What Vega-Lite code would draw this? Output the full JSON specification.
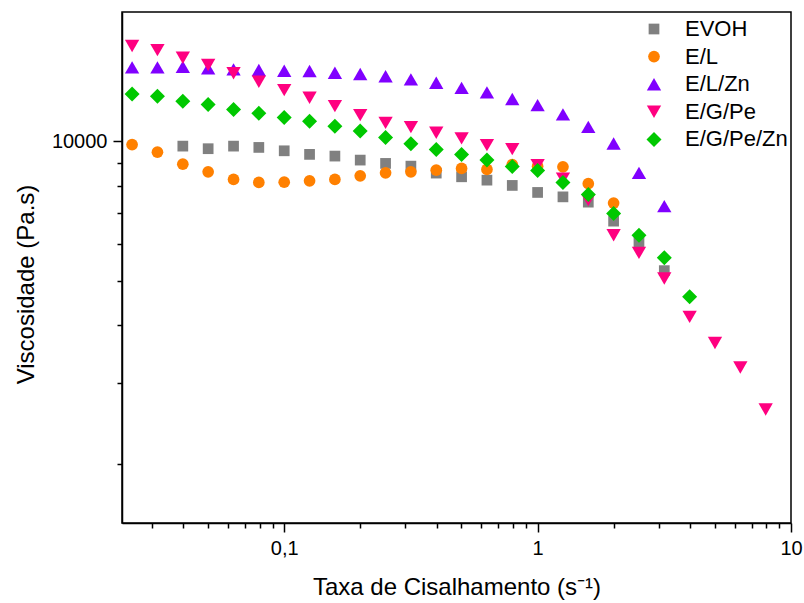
{
  "$schema": "https://vega.github.io/schema/vega-lite/v6.json",
  "width": 669,
  "height": 511,
  "autosize": {"type": "none"},
  "padding": {"left": 122, "top": 12, "right": 13, "bottom": 80},
  "background": "white",
  "config": {
    "view": {"stroke": "black", "strokeWidth": 1.5},
    "font": "Liberation Sans",
    "axis": {
      "grid": false,
      "labelFont": "Liberation Sans",
      "titleFont": "Liberation Sans",
      "labelFontSize": 20,
      "titleFontSize": 24,
      "titleFontWeight": "normal",
      "labelColor": "black",
      "titleColor": "black",
      "domainColor": "black",
      "tickColor": "black",
      "domainWidth": 1.5,
      "tickWidth": 1.5
    }
  },
  "data": {
    "values": [
      {"s": "EVOH", "x": 0.0398, "y": 9768},
      {"s": "EVOH", "x": 0.0501, "y": 9643},
      {"s": "EVOH", "x": 0.0631, "y": 9768},
      {"s": "EVOH", "x": 0.0794, "y": 9705},
      {"s": "EVOH", "x": 0.1, "y": 9543},
      {"s": "EVOH", "x": 0.1259, "y": 9374},
      {"s": "EVOH", "x": 0.1585, "y": 9295},
      {"s": "EVOH", "x": 0.1995, "y": 9111},
      {"s": "EVOH", "x": 0.2512, "y": 8962},
      {"s": "EVOH", "x": 0.3162, "y": 8841},
      {"s": "EVOH", "x": 0.3981, "y": 8540},
      {"s": "EVOH", "x": 0.5012, "y": 8384},
      {"s": "EVOH", "x": 0.631, "y": 8245},
      {"s": "EVOH", "x": 0.7943, "y": 8031},
      {"s": "EVOH", "x": 1, "y": 7755},
      {"s": "EVOH", "x": 1.259, "y": 7586},
      {"s": "EVOH", "x": 1.585, "y": 7389},
      {"s": "EVOH", "x": 1.995, "y": 6722},
      {"s": "EVOH", "x": 2.512, "y": 6068},
      {"s": "EVOH", "x": 3.162, "y": 5253},

      {"s": "E/L", "x": 0.0251, "y": 9842},
      {"s": "E/L", "x": 0.0316, "y": 9480},
      {"s": "E/L", "x": 0.0398, "y": 8930},
      {"s": "E/L", "x": 0.0501, "y": 8593},
      {"s": "E/L", "x": 0.0631, "y": 8274},
      {"s": "E/L", "x": 0.0794, "y": 8150},
      {"s": "E/L", "x": 0.1, "y": 8160},
      {"s": "E/L", "x": 0.1259, "y": 8218},
      {"s": "E/L", "x": 0.1585, "y": 8274},
      {"s": "E/L", "x": 0.1995, "y": 8424},
      {"s": "E/L", "x": 0.2512, "y": 8550},
      {"s": "E/L", "x": 0.3162, "y": 8593},
      {"s": "E/L", "x": 0.3981, "y": 8666},
      {"s": "E/L", "x": 0.5012, "y": 8741},
      {"s": "E/L", "x": 0.631, "y": 8697},
      {"s": "E/L", "x": 0.7943, "y": 8908},
      {"s": "E/L", "x": 1, "y": 8841},
      {"s": "E/L", "x": 1.259, "y": 8811},
      {"s": "E/L", "x": 1.585, "y": 8100},
      {"s": "E/L", "x": 1.995, "y": 7354},

      {"s": "E/L/Zn", "x": 0.0251, "y": 14460},
      {"s": "E/L/Zn", "x": 0.0316, "y": 14460},
      {"s": "E/L/Zn", "x": 0.0398, "y": 14500},
      {"s": "E/L/Zn", "x": 0.0501, "y": 14390},
      {"s": "E/L/Zn", "x": 0.0631, "y": 14320},
      {"s": "E/L/Zn", "x": 0.0794, "y": 14270},
      {"s": "E/L/Zn", "x": 0.1, "y": 14220},
      {"s": "E/L/Zn", "x": 0.1259, "y": 14200},
      {"s": "E/L/Zn", "x": 0.1585, "y": 14080},
      {"s": "E/L/Zn", "x": 0.1995, "y": 13990},
      {"s": "E/L/Zn", "x": 0.2512, "y": 13840},
      {"s": "E/L/Zn", "x": 0.3162, "y": 13620},
      {"s": "E/L/Zn", "x": 0.3981, "y": 13390},
      {"s": "E/L/Zn", "x": 0.5012, "y": 13060},
      {"s": "E/L/Zn", "x": 0.631, "y": 12770},
      {"s": "E/L/Zn", "x": 0.7943, "y": 12350},
      {"s": "E/L/Zn", "x": 1, "y": 11980},
      {"s": "E/L/Zn", "x": 1.259, "y": 11440},
      {"s": "E/L/Zn", "x": 1.585, "y": 10750},
      {"s": "E/L/Zn", "x": 1.995, "y": 9900},
      {"s": "E/L/Zn", "x": 2.512, "y": 8550},
      {"s": "E/L/Zn", "x": 3.162, "y": 7244},

      {"s": "E/G/Pe", "x": 0.0251, "y": 16080},
      {"s": "E/G/Pe", "x": 0.0316, "y": 15760},
      {"s": "E/G/Pe", "x": 0.0398, "y": 15170},
      {"s": "E/G/Pe", "x": 0.0501, "y": 14630},
      {"s": "E/G/Pe", "x": 0.0631, "y": 14040},
      {"s": "E/G/Pe", "x": 0.0794, "y": 13460},
      {"s": "E/G/Pe", "x": 0.1, "y": 12910},
      {"s": "E/G/Pe", "x": 0.1259, "y": 12430},
      {"s": "E/G/Pe", "x": 0.1585, "y": 11920},
      {"s": "E/G/Pe", "x": 0.1995, "y": 11400},
      {"s": "E/G/Pe", "x": 0.2512, "y": 10970},
      {"s": "E/G/Pe", "x": 0.3162, "y": 10740},
      {"s": "E/G/Pe", "x": 0.3981, "y": 10440},
      {"s": "E/G/Pe", "x": 0.5012, "y": 10150},
      {"s": "E/G/Pe", "x": 0.631, "y": 9817},
      {"s": "E/G/Pe", "x": 0.7943, "y": 9623},
      {"s": "E/G/Pe", "x": 1, "y": 8887},
      {"s": "E/G/Pe", "x": 1.259, "y": 8307},
      {"s": "E/G/Pe", "x": 1.585, "y": 7462},
      {"s": "E/G/Pe", "x": 1.995, "y": 6267},
      {"s": "E/G/Pe", "x": 2.512, "y": 5738},
      {"s": "E/G/Pe", "x": 3.162, "y": 5052},
      {"s": "E/G/Pe", "x": 3.981, "y": 4173},
      {"s": "E/G/Pe", "x": 5.012, "y": 3664},
      {"s": "E/G/Pe", "x": 6.31, "y": 3242},
      {"s": "E/G/Pe", "x": 7.943, "y": 2630},

      {"s": "E/G/Pe/Zn", "x": 0.0251, "y": 12660},
      {"s": "E/G/Pe/Zn", "x": 0.0316, "y": 12530},
      {"s": "E/G/Pe/Zn", "x": 0.0398, "y": 12220},
      {"s": "E/G/Pe/Zn", "x": 0.0501, "y": 12020},
      {"s": "E/G/Pe/Zn", "x": 0.0631, "y": 11730},
      {"s": "E/G/Pe/Zn", "x": 0.0794, "y": 11500},
      {"s": "E/G/Pe/Zn", "x": 0.1, "y": 11270},
      {"s": "E/G/Pe/Zn", "x": 0.1259, "y": 11060},
      {"s": "E/G/Pe/Zn", "x": 0.1585, "y": 10790},
      {"s": "E/G/Pe/Zn", "x": 0.1995, "y": 10530},
      {"s": "E/G/Pe/Zn", "x": 0.2512, "y": 10200},
      {"s": "E/G/Pe/Zn", "x": 0.3162, "y": 9881},
      {"s": "E/G/Pe/Zn", "x": 0.3981, "y": 9610},
      {"s": "E/G/Pe/Zn", "x": 0.5012, "y": 9374},
      {"s": "E/G/Pe/Zn", "x": 0.631, "y": 9112},
      {"s": "E/G/Pe/Zn", "x": 0.7943, "y": 8820},
      {"s": "E/G/Pe/Zn", "x": 1, "y": 8646},
      {"s": "E/G/Pe/Zn", "x": 1.259, "y": 8153},
      {"s": "E/G/Pe/Zn", "x": 1.585, "y": 7679},
      {"s": "E/G/Pe/Zn", "x": 1.995, "y": 6986},
      {"s": "E/G/Pe/Zn", "x": 2.512, "y": 6267},
      {"s": "E/G/Pe/Zn", "x": 3.162, "y": 5603},
      {"s": "E/G/Pe/Zn", "x": 3.981, "y": 4613}
    ]
  },
  "mark": {"type": "point", "filled": true, "opacity": 1, "strokeWidth": 0},
  "encoding": {
    "x": {
      "field": "x",
      "type": "quantitative",
      "scale": {"type": "log", "domain": [0.0229, 10], "nice": false},
      "axis": {
        "values": [0.03, 0.04, 0.05, 0.06, 0.07, 0.08, 0.09, 0.1, 0.2, 0.3, 0.4, 0.5, 0.6, 0.7, 0.8, 0.9, 1, 2, 3, 4, 5, 6, 7, 8, 9, 10],
        "labelExpr": "datum.value == 0.1 ? '0,1' : datum.value == 1 ? '1' : datum.value == 10 ? '10' : ''",
        "tickSize": {"condition": {"test": "datum.value == 0.1 || datum.value == 1 || datum.value == 10", "value": 9}, "value": 5},
        "labelPadding": 6,
        "labelFlush": false,
        "labelOverlap": false,
        "labelBound": false,
        "title": "Taxa de Cisalhamento (s⁻¹)",
        "titleBaseline": "alphabetic",
        "titleY": 71
      }
    },
    "y": {
      "field": "y",
      "type": "quantitative",
      "scale": {"type": "log", "domain": [1494, 19055], "nice": false},
      "axis": {
        "values": [2000, 3000, 4000, 5000, 6000, 7000, 8000, 9000, 10000],
        "labelExpr": "datum.value == 10000 ? '10000' : ''",
        "tickSize": {"condition": {"test": "datum.value == 10000", "value": 9}, "value": 5},
        "labelPadding": 6,
        "labelOverlap": false,
        "title": "Viscosidade (Pa.s)",
        "titleBaseline": "alphabetic",
        "titleX": -89,
        "titleY": 272
      }
    },
    "color": {
      "field": "s",
      "type": "nominal",
      "scale": {
        "domain": ["EVOH", "E/L", "E/L/Zn", "E/G/Pe", "E/G/Pe/Zn"],
        "range": ["#808080", "#FF8000", "#8000FF", "#FF0080", "#00C800"]
      },
      "legend": {
        "orient": "none",
        "legendX": 521,
        "legendY": 6,
        "title": null,
        "padding": 0,
        "labelFont": "Liberation Sans",
        "labelFontSize": 22,
        "labelColor": "black",
        "labelOffset": 20,
        "labelLimit": 300,
        "rowPadding": 5.6,
        "symbolStrokeWidth": 0,
        "symbolOpacity": 1
      }
    },
    "shape": {
      "field": "s",
      "type": "nominal",
      "scale": {
        "domain": ["EVOH", "E/L", "E/L/Zn", "E/G/Pe", "E/G/Pe/Zn"],
        "range": ["square", "circle", "triangle-up", "triangle-down", "diamond"]
      }
    },
    "size": {
      "field": "s",
      "type": "nominal",
      "scale": {
        "type": "ordinal",
        "domain": ["EVOH", "E/L", "E/L/Zn", "E/G/Pe", "E/G/Pe/Zn"],
        "range": [115, 137, 205, 205, 225]
      }
    },
    "order": {"value": 0}
  }
}
